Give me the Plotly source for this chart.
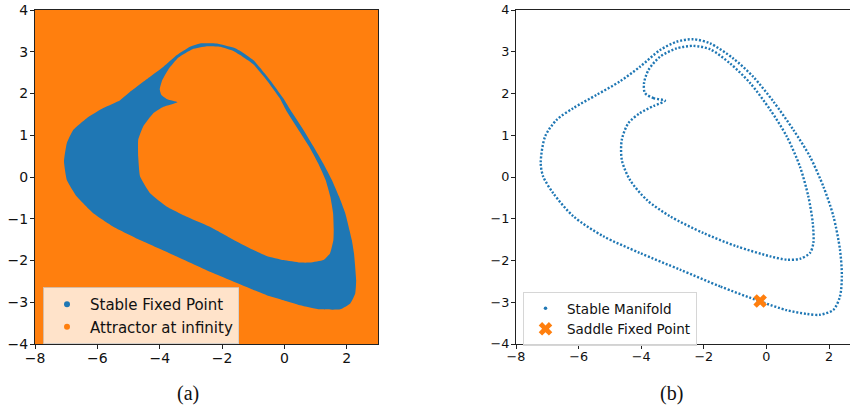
import plotly.graph_objects as go

# ---------------- data ----------------
# (a) basin of attraction: blue region = between outer and inner boundary
basin_outer_x = [-7.07, -6.98, -6.77, -6.34, -5.81, -5.27, -4.95, -4.31, -3.88, -3.45, -3.03, -2.71,
                 -2.17, -1.64, -1.42, -1.00, -0.46, -0.05, 0.24, 0.60, 0.93, 1.24, 1.52, 1.75, 1.95,
                 2.16, 2.23, 2.30, 2.27, 2.11, 1.79, 1.14, 0.50, -0.03, -0.57, -1.10, -2.39, -3.67,
                 -4.63, -5.49, -6.13, -6.66, -6.98, -7.07]
basin_outer_y = [0.37, 0.81, 1.13, 1.41, 1.65, 1.84, 2.04, 2.40, 2.64, 2.92, 3.12, 3.20,
                 3.20, 3.10, 3.02, 2.80, 2.32, 1.90, 1.55, 1.14, 0.73, 0.33, -0.07, -0.47, -0.87,
                 -1.51, -1.83, -2.47, -2.79, -3.03, -3.17, -3.17, -3.07, -2.95, -2.83, -2.67, -2.27, -1.83,
                 -1.51, -1.19, -0.87, -0.47, -0.07, 0.37]
basin_inner_x = [-3.43, -3.76, -3.95, -4.00, -3.93, -3.72, -3.40, -2.95, -2.49, -2.06, -1.64, -1.42,
                 -1.00, -0.57, -0.16, 0.09, 0.44, 0.79, 1.08, 1.32, 1.47, 1.56, 1.58, 1.57, 1.46, 1.25,
                 0.82, 0.50, -0.03, -0.57, -1.10, -1.64, -2.39, -3.13, -3.77, -4.31, -4.63, -4.69,
                 -4.69, -4.53, -4.20, -3.88, -3.43]
basin_inner_y = [1.79, 1.86, 1.97, 2.10, 2.30, 2.58, 2.86, 3.06, 3.13, 3.12, 3.02, 2.92,
                 2.70, 2.32, 1.90, 1.55, 1.14, 0.73, 0.33, -0.07, -0.47, -0.87, -1.25, -1.51, -1.83, -1.99,
                 -2.05, -2.05, -1.99, -1.89, -1.71, -1.50, -1.19, -0.95, -0.71, -0.39, 0.01, 0.49,
                 0.89, 1.21, 1.53, 1.68, 1.79]

# (b) stable manifold: outer branch through the saddle, inner branch
manifold_outer_x = [-0.20, -1.48, -2.76, -4.04, -5.21, -6.17, -6.81, -7.13, -7.21, -7.07, -6.70, -6.17,
                    -5.42, -4.68, -4.04, -3.40, -2.87, -2.34, -1.80, -1.06, -0.42, 0.22, 0.86, 1.39,
                    1.82, 2.14, 2.35, 2.41, 2.35, 2.14, 1.71, 1.29, 0.65, -0.20]
manifold_outer_y = [-2.98, -2.62, -2.22, -1.82, -1.42, -0.94, -0.39, 0.01, 0.33, 0.97, 1.37, 1.65,
                    1.97, 2.29, 2.64, 3.04, 3.24, 3.30, 3.20, 2.84, 2.40, 1.81, 1.13, 0.49,
                    -0.23, -0.94, -1.74, -2.38, -2.86, -3.18, -3.30, -3.28, -3.19, -2.98]
manifold_inner_x = [-3.24, -3.61, -3.88, -3.91, -3.77, -3.40, -2.87, -2.34, -1.80, -1.16, -0.52, 0.12,
                    0.65, 1.07, 1.34, 1.48, 1.50, 1.39, 1.07, 0.65, 0.12, -0.95, -2.02, -3.08,
                    -3.82, -4.36, -4.62, -4.62, -4.41, -4.04, -3.61, -3.24]
manifold_inner_y = [1.83, 1.89, 2.01, 2.25, 2.56, 2.88, 3.08, 3.14, 3.06, 2.72, 2.25, 1.61,
                    0.97, 0.25, -0.47, -1.10, -1.58, -1.82, -1.96, -1.98, -1.90, -1.66, -1.34, -0.94,
                    -0.55, -0.07, 0.41, 0.89, 1.29, 1.53, 1.70, 1.83]
saddle_x = [-0.20]
saddle_y = [-2.97]

x_ticks = [-8, -6, -4, -2, 0, 2]
y_ticks = [-4, -3, -2, -1, 0, 1, 2, 3, 4]
xrange_a = [-8, 3]
xrange_b = [-8, 2.67]
yrange = [-4, 4]

BLUE = "#1f77b4"
ORANGE = "#ff7f0e"
FONT = "DejaVu Sans"

fig = go.Figure()

# (a) blue basin, then orange hole
fig.add_trace(go.Scatter(x=basin_outer_x, y=basin_outer_y, mode="lines", fill="toself",
                         fillcolor=BLUE, line=dict(width=0, color=BLUE, shape="spline", smoothing=0.4),
                         showlegend=False, hoverinfo="skip", xaxis="x", yaxis="y"))
fig.add_trace(go.Scatter(x=basin_inner_x, y=basin_inner_y, mode="lines", fill="toself",
                         fillcolor=ORANGE, line=dict(width=0, color=ORANGE, shape="spline", smoothing=0.4),
                         showlegend=False, hoverinfo="skip", xaxis="x", yaxis="y"))
# legend entries (a)
fig.add_trace(go.Scatter(x=[None], y=[None], mode="markers", name="Stable Fixed Point",
                         marker=dict(color=BLUE, size=6), legend="legend", xaxis="x", yaxis="y"))
fig.add_trace(go.Scatter(x=[None], y=[None], mode="markers", name="Attractor at infinity",
                         marker=dict(color=ORANGE, size=6), legend="legend", xaxis="x", yaxis="y"))

# (b) manifold as dotted curves
for mx, my in [(manifold_outer_x, manifold_outer_y), (manifold_inner_x, manifold_inner_y)]:
    fig.add_trace(go.Scatter(x=mx, y=my, mode="lines",
                             line=dict(color=BLUE, width=2.4, dash="2px,1.8px", shape="spline", smoothing=0.8),
                             showlegend=False, hoverinfo="skip", xaxis="x2", yaxis="y2"))
fig.add_trace(go.Scatter(x=[None], y=[None], mode="markers", name="Stable Manifold",
                         marker=dict(color=BLUE, size=3.5), legend="legend2", xaxis="x2", yaxis="y2"))
fig.add_trace(go.Scatter(x=saddle_x, y=saddle_y, mode="markers", name="Saddle Fixed Point",
                         marker=dict(color=ORANGE, size=12, symbol="x", line=dict(width=0)),
                         legend="legend2", xaxis="x2", yaxis="y2"))

def axis_style(size, standoff):
    return dict(showgrid=False, zeroline=False, showline=True, linecolor="#222222", linewidth=1,
                ticks="outside", ticklen=4, tickwidth=1, tickcolor="#222222", automargin=False,
                ticklabelstandoff=standoff,
                tickfont=dict(family=FONT, size=size, color="#111111"))

fig.update_layout(
    width=850, height=410, autosize=False,
    margin=dict(l=0, r=0, t=0, b=0, pad=0, autoexpand=False),
    paper_bgcolor="white", plot_bgcolor="white",
    xaxis=dict(domain=[35/850, 378/850], range=xrange_a, tickvals=x_ticks, mirror=True,
               anchor="y", **axis_style(14, -3)),
    yaxis=dict(domain=[66/410, 400/410], range=yrange, tickvals=y_ticks, mirror=True,
               anchor="x", **axis_style(14, -1)),
    xaxis2=dict(domain=[516/850, 1.0], range=xrange_b, tickvals=x_ticks, mirror=True,
                anchor="y2", **axis_style(12.8, -3)),
    yaxis2=dict(domain=[66/410, 400/410], range=yrange, tickvals=y_ticks, mirror=False,
                anchor="x2", **axis_style(12.8, -1)),
    shapes=[dict(type="rect", xref="x domain", yref="y domain", x0=0, x1=1, y0=0, y1=1,
                 fillcolor=ORANGE, line=dict(width=0), layer="below")],
    legend=dict(x=43/850, y=(410-287)/410, xanchor="left", yanchor="top",
                bgcolor="rgba(255,255,255,0.78)", bordercolor="rgba(204,204,204,0.8)", borderwidth=1,
                font=dict(family=FONT, size=15, color="#111111"), itemwidth=36, tracegroupgap=0),
    legend2=dict(x=523/850, y=(410-292)/410, xanchor="left", yanchor="top",
                 bgcolor="rgba(255,255,255,0.8)", bordercolor="#d6d6d6", borderwidth=1,
                 font=dict(family=FONT, size=13.5, color="#111111"), itemwidth=33, tracegroupgap=0),
    annotations=[
        dict(text="(a)", x=188/850, y=(410-393)/410, xref="paper", yref="paper", showarrow=False,
             xanchor="center", yanchor="middle",
             font=dict(family="Liberation Serif", size=20, color="#111111")),
        dict(text="(b)", x=671/850, y=(410-393)/410, xref="paper", yref="paper", showarrow=False,
             xanchor="center", yanchor="middle",
             font=dict(family="Liberation Serif", size=20, color="#111111")),
    ],
)

fig.write_html("out.html", config={"displayModeBar": False},
               post_script="document.body.style.margin='0px';document.body.style.overflow='hidden';")
